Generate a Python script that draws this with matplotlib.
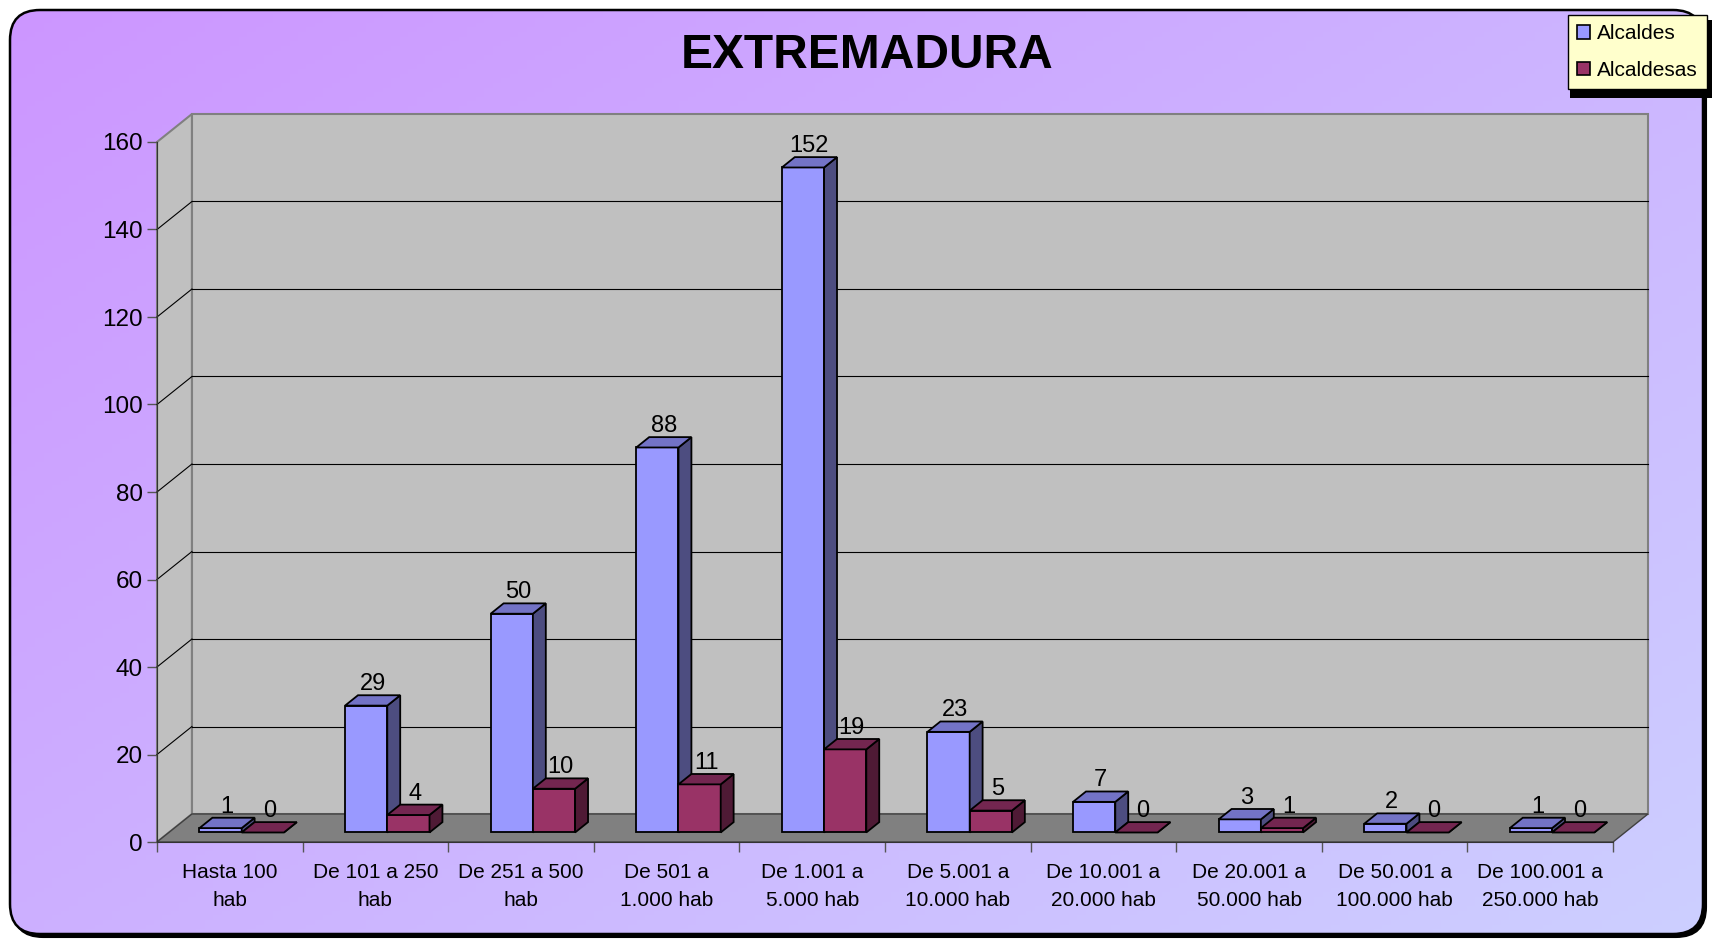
import numpy as np
import matplotlib
matplotlib.use("Agg")
import matplotlib.pyplot as plt
from matplotlib.patches import Polygon, Patch, FancyBboxPatch, Rectangle

plt.rcParams['font.family'] = ['Liberation Sans', 'DejaVu Sans']

# data
categories = ["Hasta 100\nhab", "De 101 a 250\nhab", "De 251 a 500\nhab",
              "De 501 a\n1.000 hab", "De 1.001 a\n5.000 hab", "De 5.001 a\n10.000 hab",
              "De 10.001 a\n20.000 hab", "De 20.001 a\n50.000 hab",
              "De 50.001 a\n100.000 hab", "De 100.001 a\n250.000 hab"]
alcaldes = [1, 29, 50, 88, 152, 23, 7, 3, 2, 1]
alcaldesas = [0, 4, 10, 11, 19, 5, 0, 1, 0, 0]
series_names = ["Alcaldes", "Alcaldesas"]
yticks = [0, 20, 40, 60, 80, 100, 120, 140, 160]

# colours: front, top, side
blue = ("#9999ff", "#7373c6", "#4d4d80")
red = ("#993366", "#732650", "#4f1a35")

W, H = 1717, 946
fig = plt.figure(figsize=(W / 100, H / 100), dpi=100)
fig.patch.set_facecolor("white")

# background with rounded frame and gradient
bg = fig.add_axes([0, 0, 1, 1], zorder=-5)
bg.set_xlim(0, W)
bg.set_ylim(H, 0)
bg.axis("off")
shadow = FancyBboxPatch((13, 13), W - 24, H - 22, boxstyle="round,pad=0,rounding_size=30",
                        fc="black", ec="black", lw=1.5)
bg.add_patch(shadow)
frame = FancyBboxPatch((10, 10), W - 24, H - 22, boxstyle="round,pad=0,rounding_size=30",
                       fc="none", ec="black", lw=1.8, zorder=3)
yy, xx = np.mgrid[0:1:200j, 0:1:200j]
t = (xx * 0.55 + yy * 0.45)
c0 = np.array([204, 150, 255]) / 255
c1 = np.array([205, 207, 255]) / 255
grad = c0[None, None, :] * (1 - t[..., None]) + c1[None, None, :] * t[..., None]
im = bg.imshow(grad, extent=(10, W - 14, H - 12, 10), aspect="auto", zorder=1)
clipper = FancyBboxPatch((10, 10), W - 24, H - 22, boxstyle="round,pad=0,rounding_size=30",
                         fc="none", ec="none")
bg.add_patch(clipper)
im.set_clip_path(clipper)
bg.add_patch(frame)

# legend box shadow (thicker than matplotlib's own)
bg.add_patch(Rectangle((1570, 20), 142, 78, fc="black", ec="none", zorder=4))

# main axes = front plane of the 3D box
ax = fig.add_axes([157 / W, (H - 842) / H, (1613 - 157) / W, (842 - 142) / H])
ax.set_xlim(0, len(categories))
ax.set_ylim(0, 160)
ax.patch.set_visible(False)
for s in ["top", "right"]:
    ax.spines[s].set_visible(False)
ax.spines["left"].set_color("#333333")
ax.spines["bottom"].set_color("#333333")
ax.spines["left"].set_zorder(6)
ax.spines["bottom"].set_zorder(6)

DX, DY = 0.24, 6.4  # depth offset in data units
n = len(categories)


def P(x, y, d):
    return (x + d * DX, y + d * DY)


def poly(pts, fc, ec, lw, z):
    ax.add_patch(Polygon(pts, closed=True, fc=fc, ec=ec, lw=lw, zorder=z, clip_on=False))


# walls and floor
poly([P(0, 0, 0), P(0, 160, 0), P(0, 160, 1), P(0, 0, 1)], "#c0c0c0", "#808080", 1.5, 1)
poly([P(0, 0, 1), P(n, 0, 1), P(n, 160, 1), P(0, 160, 1)], "#c0c0c0", "#808080", 1.5, 1)
for v in yticks[1:-1]:
    ax.plot(*zip(P(0, v, 1), P(n, v, 1)), color="black", lw=0.8, zorder=2, clip_on=False)
    ax.plot(*zip(P(0, v, 0), P(0, v, 1)), color="black", lw=0.8, zorder=2, clip_on=False)
poly([P(0, 0, 0), P(n, 0, 0), P(n, 0, 1), P(0, 0, 1)], "#808080", "#404040", 1.0, 3)

# bars
d0, d1 = 0.34, 0.71
z = 4
for i in range(n):
    for j, (vals, cols) in enumerate([(alcaldes, blue), (alcaldesas, red)]):
        v = vals[i]
        x0 = i + 0.21 + j * 0.29
        x1 = x0 + 0.29
        poly([P(x0, 0, d0), P(x1, 0, d0), P(x1, v, d0), P(x0, v, d0)], cols[0], "black", 1.3, z)
        poly([P(x1, 0, d0), P(x1, 0, d1), P(x1, v, d1), P(x1, v, d0)], cols[2], "black", 1.3, z)
        poly([P(x0, v, d0), P(x1, v, d0), P(x1, v, d1), P(x0, v, d1)], cols[1], "black", 1.3, z)
        lx, ly = P((x0 + x1) / 2, v, (d0 + d1) / 2)
        ax.annotate(str(v), (lx, v + d1 * DY), xytext=(0, 0), textcoords="offset points",
                    ha="center", va="bottom", fontsize=17, zorder=10, annotation_clip=False)

# axes ticks
ax.set_yticks(yticks)
ax.tick_params(axis="y", length=7, width=1, color="#555555", labelsize=17.5, pad=3)
ax.set_xticks(range(n + 1))
ax.set_xticklabels([])
ax.set_xticks(np.arange(n) + 0.5, minor=True)
ax.set_xticklabels(categories, minor=True, fontsize=15, linespacing=1.6)
ax.tick_params(axis="x", which="major", length=7, width=1, color="#555555")
ax.tick_params(axis="x", which="minor", length=0, pad=15)

fig.text(867 / W, 1 - 55 / H, "EXTREMADURA", ha="center", va="center",
         fontsize=34.5, fontweight="bold")

handles = [Patch(fc=blue[0], ec="black", lw=1.2), Patch(fc=red[0], ec="black", lw=1.2)]
leg = fig.legend(handles, series_names, loc="upper right",
                 bbox_to_anchor=(1707 / W, 1 - 15 / H), fontsize=15,
                 frameon=True, fancybox=False, shadow=False, framealpha=1,
                 handlelength=0.6, handleheight=0.6, handletextpad=0.35,
                 labelspacing=0.85, borderpad=0.45, borderaxespad=0)
leg.get_frame().set_facecolor("#ffffcc")
leg.get_frame().set_edgecolor("black")
leg.get_frame().set_linewidth(1)

fig.savefig("out.png", dpi=100)
